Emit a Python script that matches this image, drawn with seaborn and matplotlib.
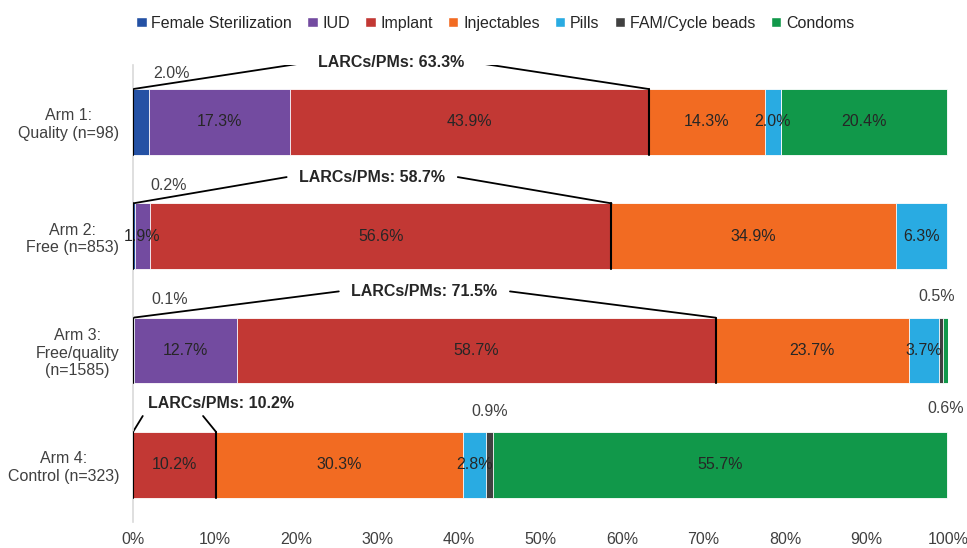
import numpy as np
import pandas as pd
import matplotlib.pyplot as plt
import seaborn as sns
from matplotlib.patches import Patch

# data (percent of users per method)
arms = ["Arm 1:\nQuality (n=98)", "Arm 2:\nFree (n=853)",
        "Arm 3:\nFree/quality\n(n=1585)", "Arm 4:\nControl (n=323)"]
methods = ["Female Sterilization", "IUD", "Implant", "Injectables",
           "Pills", "FAM/Cycle beads", "Condoms"]
fem_ster = [2.0, 0.2, 0.1, 0.0]
iud = [17.3, 1.9, 12.7, 0.0]
implant = [43.9, 56.6, 58.7, 10.2]
injectables = [14.3, 34.9, 23.7, 30.3]
pills = [2.0, 6.3, 3.7, 2.8]
fam = [0.0, 0.0, 0.5, 0.9]
condoms = [20.4, 0.0, 0.6, 55.7]
larcs = [63.3, 58.7, 71.5, 10.2]

colors = ["#2451a4", "#734ba0", "#c23834", "#f26b22", "#29abe2", "#404040", "#11984a"]

# small segments whose label sits outside the bar: (arm, method) -> (dx pt, dy pt)
outside = {(0, 0): (22, 11), (1, 0): (25, 13), (2, 0): (26, 13),
           (2, 5): (-3, 15), (2, 6): (0, -18), (3, 5): (0, 15)}

df = pd.DataFrame(dict(zip(methods, [fem_ster, iud, implant, injectables, pills, fam, condoms])))
df["arm"] = arms
cum = df[methods].cumsum(axis=1)

sns.set_style("white")
plt.rcParams["font.family"] = ["Liberation Sans", "DejaVu Sans"]
txt = "#262626"
fs = 11.5

fig = plt.figure(figsize=(9.67, 5.48), dpi=100)
ax = fig.add_axes([0.1375, 0.0474, 0.843, 0.8344])
h = 0.575

# stacked bars: draw cumulative totals from the last layer to the first
for k in range(len(methods) - 1, -1, -1):
    sns.barplot(x=cum[methods[k]], y=df["arm"], orient="h", color=colors[k],
                width=h, edgecolor="white", linewidth=0.6, saturation=1, ax=ax)

for i in range(len(arms)):
    for k, m in enumerate(methods):
        v = df.loc[i, m]
        if v <= 0:
            continue
        left = cum.loc[i, m] - v
        xc = left + v / 2
        if (i, k) in outside:
            dx, dy = outside[(i, k)]
            yref = i - h / 2 if dy > 0 else i + h / 2
            ax.annotate(f"{v:.1f}%", (xc, yref), xytext=(dx, dy), textcoords="offset points",
                        ha="center", va="center", fontsize=fs, color="#404040")
        else:
            ax.text(xc, i, f"{v:.1f}%", ha="center", va="center", fontsize=fs, color=txt)

    # LARC/PM bracket
    L = larcs[i]
    top = i - h / 2
    ax.plot([0, 0], [top, i + h / 2], color="black", lw=1.5, zorder=5)
    ax.plot([L, L], [top, i + h / 2], color="black", lw=1.5, zorder=5)
    if L >= 20:
        xt = L / 2
        yt = top - 0.23
        ax.plot([0, xt - 10.5], [top, yt], color="black", lw=1.3)
        ax.plot([L, xt + 10.5], [top, yt], color="black", lw=1.3)
    else:
        xt = 10.8
        yt = top - 0.25
        ax.plot([0, 1.2], [top, top - 0.14], color="black", lw=1.3)
        ax.plot([L, L - 1.6], [top, top - 0.14], color="black", lw=1.3)
    ax.text(xt, yt, f"LARCs/PMs: {L:.1f}%", ha="center", va="center",
            fontsize=fs, fontweight="bold", color=txt)

ax.set_xlim(0, 100)
ax.set_ylim(3.5, -0.5)
ax.set_xticks(np.arange(0, 101, 10))
ax.set_xticklabels([f"{t}%" for t in range(0, 101, 10)])
ax.set_xlabel("")
ax.set_ylabel("")
ax.tick_params(axis="both", length=0, labelsize=fs, labelcolor="#404040")
ax.tick_params(axis="x", pad=7)
ax.tick_params(axis="y", pad=10)
for lab in ax.get_yticklabels():
    lab.set_multialignment("center")
for s in ["top", "right", "bottom"]:
    ax.spines[s].set_visible(False)
ax.spines["left"].set_color("#d9d9d9")
ax.spines["left"].set_linewidth(1.2)

handles = [Patch(facecolor=c, label=m) for c, m in zip(colors, methods)]
fig.legend(handles=handles, loc="center", bbox_to_anchor=(0.512, 0.958), ncol=7,
           frameon=False, fontsize=fs, handlelength=0.65, handleheight=0.65,
           handletextpad=0.3, columnspacing=0.95, labelcolor=txt)

fig.savefig("out.png", dpi=100)
